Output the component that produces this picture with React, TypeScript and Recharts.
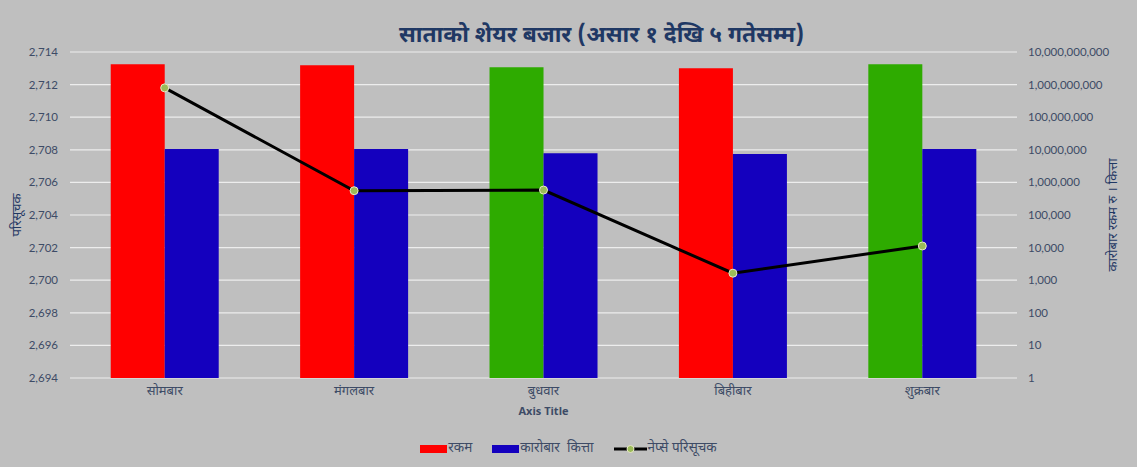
import React from 'react';
import { ComposedChart, Bar, Line, XAxis, YAxis, CartesianGrid, Legend, Cell } from 'recharts';

// categories and series
const days = ['सोमबार', 'मंगलबार', 'बुधवार', 'बिहीबार', 'शुक्रबार'];
const amount = [4.2e9, 3.9e9, 3.4e9, 3.2e9, 4.2e9];
const amountColors = ['#FF0000', '#FF0000', '#2EAB00', '#FF0000', '#2EAB00'];
const shares = [1.05e7, 1.05e7, 7.8e6, 7.4e6, 1.05e7];
const nepse = [2711.8, 2705.49, 2705.53, 2700.43, 2702.1];

const seriesNames = ['रकम', 'कारोबार  कित्ता', 'नेप्से परिसूचक'];
const indexTicks = [2694, 2696, 2698, 2700, 2702, 2704, 2706, 2708, 2710, 2712, 2714];
const volumeTicks = [1, 10, 100, 1000, 1e4, 1e5, 1e6, 1e7, 1e8, 1e9, 1e10];

const data = days.map((d, i) => ({
    day: d,
    amount: amount[i],
    shares: shares[i],
    nepse: nepse[i],
}));

const DEVA = "'Noto Sans Devanagari', 'Noto Sans', sans-serif";
const NUM = 'Lato, sans-serif';
const TXT = '#3D4B66';
const TITLE = '#1F3864';

const fmt = (v: number) => v.toLocaleString('en-US');

const renderLegend = (props: any) => {
    // keep the series order, legend sorts by name otherwise
    const items = [...(props.payload || [])].sort(
        (a: any, b: any) => seriesNames.indexOf(a.value) - seriesNames.indexOf(b.value)
    );
    return (
        <div style={{ display: 'flex', justifyContent: 'center', alignItems: 'center', height: 20, fontFamily: DEVA, fontSize: 13.5, color: TXT }}>
            {items.map((entry: any, i: number) => (
                <div key={i} style={{ display: 'flex', alignItems: 'center', marginLeft: i === 0 ? 0 : 20 }}>
                    {entry.type === 'line' ? (
                        <svg width={33} height={10}>
                            <line x1={0} y1={5} x2={33} y2={5} stroke="#000" strokeWidth={3} />
                            <circle cx={16.5} cy={5} r={3.5} fill="#9BBB59" stroke="#E8E8C8" strokeWidth={1} />
                        </svg>
                    ) : (
                        <div style={{ width: 27, height: 8, background: entry.color }} />
                    )}
                    <span style={{ marginLeft: 1, whiteSpace: 'pre' }}>{entry.value}</span>
                </div>
            ))}
        </div>
    );
};

const App: React.FC = () => {
    return (
        <div style={{ position: 'absolute', left: 0, top: 0, width: 1137, height: 467, background: '#BFBFBF' }}>
            <div style={{ position: 'absolute', left: 0, width: 1137, top: 22, textAlign: 'center', paddingLeft: 66, boxSizing: 'border-box', fontFamily: DEVA, fontWeight: 'bold', fontSize: 22.8, color: TITLE }}>
                साताको शेयर बजार (असार १ देखि ५ गतेसम्म)
            </div>
            <ComposedChart
                width={1137}
                height={467}
                data={data}
                margin={{ top: 52, right: 0, bottom: 8, left: 0 }}
                barCategoryGap="21.5%"
                barGap={0}
            >
                <CartesianGrid vertical={false} stroke="#EDEDED" strokeWidth={1.2} yAxisId="left" />
                <XAxis
                    dataKey="day"
                    axisLine={false}
                    tickLine={false}
                    height={61}
                    tickMargin={2}
                    tick={{ fontFamily: DEVA, fontSize: 13, fill: TXT }}
                    label={(p: any) => (
                        <text x={p.viewBox.x + p.viewBox.width / 2} y={p.viewBox.y + 37} textAnchor="middle" fontFamily="'Open Sans', sans-serif" fontWeight="bold" fontSize={11} fill={TXT}>
                            Axis Title
                        </text>
                    )}
                />
                <YAxis
                    yAxisId="left"
                    width={70}
                    domain={[2694, 2714]}
                    ticks={indexTicks}
                    allowDataOverflow
                    axisLine={false}
                    tickLine={false}
                    tickMargin={6}
                    tickFormatter={fmt}
                    tick={{ fontFamily: NUM, fontSize: 11.5, fill: TXT }}
                    label={(p: any) => (
                        <text
                            x={p.viewBox.x + 21}
                            y={p.viewBox.y + p.viewBox.height / 2}
                            textAnchor="middle"
                            transform={`rotate(-90, ${p.viewBox.x + 21}, ${p.viewBox.y + p.viewBox.height / 2})`}
                            fontFamily={DEVA}
                            fontSize={13}
                            fill={TITLE}
                        >
                            परिसूचक
                        </text>
                    )}
                />
                <YAxis
                    yAxisId="right"
                    orientation="right"
                    width={120}
                    scale="log"
                    domain={[1, 1e10]}
                    ticks={volumeTicks}
                    allowDataOverflow
                    axisLine={false}
                    tickLine={false}
                    tickMargin={5}
                    tickFormatter={fmt}
                    tick={{ fontFamily: NUM, fontSize: 11.5, fill: TXT }}
                    label={(p: any) => (
                        <text
                            x={p.viewBox.x + 100}
                            y={p.viewBox.y + p.viewBox.height / 2}
                            textAnchor="middle"
                            transform={`rotate(-90, ${p.viewBox.x + 100}, ${p.viewBox.y + p.viewBox.height / 2})`}
                            fontFamily={DEVA}
                            fontSize={13}
                            fill={TITLE}
                        >
                            कारोबार रकम रु । कित्ता
                        </text>
                    )}
                />
                <Legend verticalAlign="bottom" content={renderLegend} />
                <Bar yAxisId="right" dataKey="amount" name="रकम" fill="#FF0000" isAnimationActive={false}>
                    {data.map((_, i) => (
                        <Cell key={i} fill={amountColors[i]} />
                    ))}
                </Bar>
                <Bar yAxisId="right" dataKey="shares" name="कारोबार  कित्ता" fill="#1400BE" isAnimationActive={false} />
                <Line
                    yAxisId="left"
                    dataKey="nepse"
                    name="नेप्से परिसूचक"
                    stroke="#000000"
                    strokeWidth={3}
                    dot={{ r: 4, fill: '#9BBB59', stroke: '#E8E8C8', strokeWidth: 1 }}
                    isAnimationActive={false}
                />
            </ComposedChart>
        </div>
    );
};

export default App;
